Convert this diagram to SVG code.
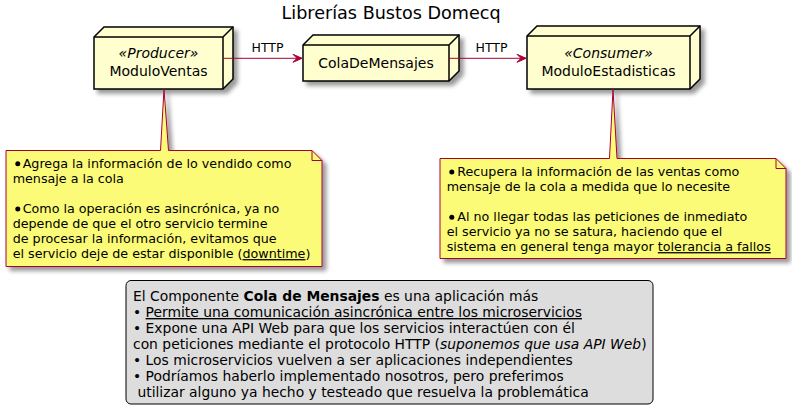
<svg xmlns="http://www.w3.org/2000/svg" width="792" height="419" viewBox="0 0 792 419">
<defs>
<filter id="sh" x="-1" y="-1" width="300%" height="300%">
<feGaussianBlur result="b1" stdDeviation="2"/>
<feColorMatrix in="b1" result="b2" type="matrix" values="0 0 0 0 0 0 0 0 0 0 0 0 0 0 0 0 0 0 .4 0"/>
<feOffset dx="4" dy="4" in="b2" result="b3"/>
<feBlend in="SourceGraphic" in2="b3" mode="normal"/>
</filter>
<marker id="ah" markerUnits="userSpaceOnUse" markerWidth="12" markerHeight="10" refX="10" refY="5" orient="auto" viewBox="0 0 12 10">
<polygon points="1,1 10,5 1,9 5,5" fill="#A80036" stroke="#A80036" stroke-width="1"/>
</marker>
</defs>
<style>
text{font-family:"DejaVu Sans","Liberation Sans",sans-serif;fill:#000;}
.node{fill:#FEFECE;stroke:#000;stroke-width:1.5;}
.edge{fill:none;stroke:#000;stroke-width:1.5;}
.note{fill:#FBFB77;stroke:#A80036;stroke-width:1;}
.conn{stroke:#A80036;stroke-width:1;fill:none;}
.t14{font-size:14px;}
.lg{font-size:13.88px;}
.t13{font-size:12.7px;}
.ul{text-decoration:underline;}
.dot{fill:#000;}
</style>
<rect width="792" height="419" fill="#FFFFFF"/>
<text x="391" y="19" text-anchor="middle" style="font-size:17.6px">Librerías Bustos Domecq</text>

<g id="ModuloVentas">
<g filter="url(#sh)"><polygon class="node" points="94,37 104,27 233,27 233,79 223,89 94,89"/></g>
<path class="edge" d="M223,37 L233,27 M94,37 L223,37 M223,37 L223,89"/>
<text class="t14" x="158.5" y="58" text-anchor="middle" font-style="italic">«Producer»</text>
<text class="t14" x="158.5" y="75.5" text-anchor="middle">ModuloVentas</text>
</g>

<g id="ColaDeMensajes">
<g filter="url(#sh)"><polygon class="node" points="303,45 313,35 459,35 459,71 449,81 303,81"/></g>
<path class="edge" d="M449,45 L459,35 M303,45 L449,45 M449,45 L449,81"/>
<text class="t14" x="376" y="67.5" text-anchor="middle">ColaDeMensajes</text>
</g>

<g id="ModuloEstadisticas">
<g filter="url(#sh)"><polygon class="node" points="527,36 537,26 700,26 700,79 690,89 527,89"/></g>
<path class="edge" d="M690,36 L700,26 M527,36 L690,36 M690,36 L690,89"/>
<text class="t14" x="608.5" y="58" text-anchor="middle" font-style="italic">«Consumer»</text>
<text class="t14" x="608.5" y="75.5" text-anchor="middle">ModuloEstadisticas</text>
</g>

<g id="connectors">
<line class="conn" x1="223" y1="58.3" x2="302" y2="58.3" marker-end="url(#ah)"/>
<text x="267.5" y="51.5" text-anchor="middle" style="font-size:12.5px">HTTP</text>
<line class="conn" x1="449" y1="58.3" x2="526" y2="58.3" marker-end="url(#ah)"/>
<text x="491.5" y="51.5" text-anchor="middle" style="font-size:12.5px">HTTP</text>
</g>

<g id="note1">
<g filter="url(#sh)"><path class="note" d="M6,150.5 L160.5,150.5 L164,89 L168.5,150.5 L312,150.5 L322,160.5 L322,266.5 L6,266.5 Z"/></g>
<path class="conn" d="M312,150.5 L312,160.5 L322,160.5"/>
<circle class="dot" cx="17.8" cy="163.8" r="2.5"/>
<text class="t13" x="22.7" y="167.5">Agrega la información de lo vendido como</text>
<text class="t13" x="12.7" y="182.6">mensaje a la cola</text>
<circle class="dot" cx="17.8" cy="209.1" r="2.5"/>
<text class="t13" x="22.7" y="212.8">Como la operación es asincrónica, ya no</text>
<text class="t13" x="12.7" y="227.9">depende de que el otro servicio termine</text>
<text class="t13" x="12.7" y="243">de procesar la información, evitamos que</text>
<text class="t13" x="12.7" y="258.1">el servicio deje de estar disponible (<tspan class="ul">downtime</tspan>)</text>
</g>

<g id="note2">
<g filter="url(#sh)"><path class="note" d="M440,158.5 L609.5,158.5 L613,89 L617,158.5 L776,158.5 L786,168.5 L786,258.5 L440,258.5 Z"/></g>
<path class="conn" d="M776,158.5 L776,168.5 L786,168.5"/>
<circle class="dot" cx="451.8" cy="172" r="2.5"/>
<text class="t13" x="457.3" y="175.7">Recupera la información de las ventas como</text>
<text class="t13" x="446.7" y="190.8">mensaje de la cola a medida que lo necesite</text>
<circle class="dot" cx="451.8" cy="217.2" r="2.5"/>
<text class="t13" x="457.3" y="220.9">Al no llegar todas las peticiones de inmediato</text>
<text class="t13" x="446.7" y="236">el servicio ya no se satura, haciendo que el</text>
<text class="t13" x="446.7" y="251.1">sistema en general tenga mayor <tspan class="ul">tolerancia a fallos</tspan></text>
</g>

<g id="legend">
<rect x="126" y="280.5" width="527" height="123.5" rx="5" ry="5" fill="#DDDDDD" stroke="#000" stroke-width="1"/>
<text class="lg" x="133" y="301">El Componente <tspan font-weight="bold">Cola de Mensajes</tspan> es una aplicación más</text>
<text class="lg" x="133" y="317" xml:space="preserve">• <tspan class="ul">Permite una comunicación asincrónica entre los microservicios</tspan></text>
<text class="lg" x="133" y="333">• Expone una API Web para que los servicios interactúen con él</text>
<text class="lg" x="133" y="349">con peticiones mediante el protocolo HTTP (<tspan font-style="italic">suponemos que usa API Web</tspan>)</text>
<text class="lg" x="133" y="365">• Los microservicios vuelven a ser aplicaciones independientes</text>
<text class="lg" x="133" y="381">• Podríamos haberlo implementado nosotros, pero preferimos</text>
<text class="lg" x="133" y="397" xml:space="preserve"> utilizar alguno ya hecho y testeado que resuelva la problemática</text>
</g>
</svg>
